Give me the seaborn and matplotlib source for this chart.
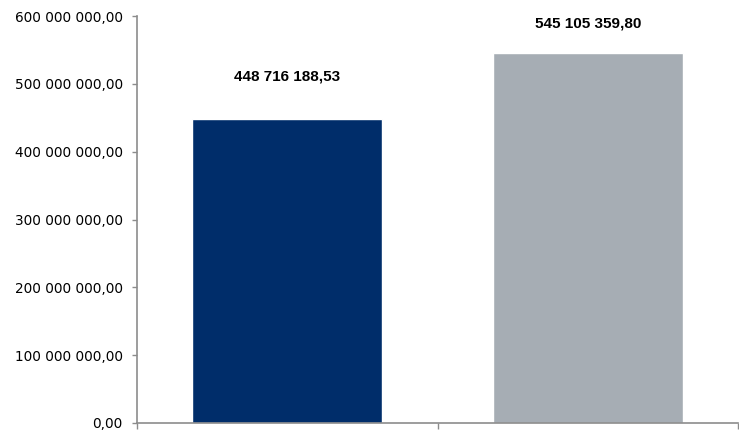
import matplotlib
matplotlib.use("Agg")
import matplotlib.pyplot as plt
import seaborn as sns
import pandas as pd
from matplotlib.ticker import FuncFormatter, FixedLocator

categories = ["A", "B"]
values = [448716188.53, 545105359.80]
bar_colors = ["#002d6a", "#a6adb4"]
y_ticks = [0, 100e6, 200e6, 300e6, 400e6, 500e6, 600e6]
# vertical gap (points) between each bar top and its value label
label_gaps = [30.6, 21.2]

sns.set_theme(style="white")
plt.rcParams["font.family"] = ["DejaVu Sans"]


def fmt_num(v):
    s = f"{v:,.2f}"
    return s.replace(",", " ").replace(".", ",")


df = pd.DataFrame({"cat": categories, "val": values})

fig = plt.figure(figsize=(7.39, 4.30), dpi=100)
ax = fig.add_axes([137 / 739, 1 - 423 / 430, (738 - 137) / 739, (423 - 16) / 430])

sns.barplot(data=df, x="cat", y="val", hue="cat", palette=bar_colors,
            width=0.632, legend=False, ax=ax, saturation=1)

ax.set_xlim(-0.5, 1.5)
ax.set_ylim(0, 600e6)
ax.set_yticks(y_ticks)
ax.yaxis.set_major_formatter(FuncFormatter(lambda v, p: fmt_num(v)))
ax.set_xticks([])
ax.xaxis.set_minor_locator(FixedLocator([-0.5, 0.5, 1.5]))
ax.tick_params(axis="x", which="minor", bottom=True, length=4.5, width=1, color="#8c8c8c")
ax.tick_params(axis="y", left=True, length=3.8, width=1, color="#8c8c8c",
               labelsize=9.8, labelcolor="black", pad=6.5)
ax.set_xlabel("")
ax.set_ylabel("")

for side in ["top", "right"]:
    ax.spines[side].set_visible(False)
for side in ["left", "bottom"]:
    ax.spines[side].set_color("#8c8c8c")
    ax.spines[side].set_linewidth(1.2)

for i, (v, gap) in enumerate(zip(values, label_gaps)):
    ax.annotate(fmt_num(v), xy=(i, v), xytext=(0, gap), textcoords="offset points",
                ha="center", va="center", fontsize=11, fontweight="bold",
                color="black", family=["Liberation Sans", "DejaVu Sans"])

fig.savefig("out.png", dpi=100)
